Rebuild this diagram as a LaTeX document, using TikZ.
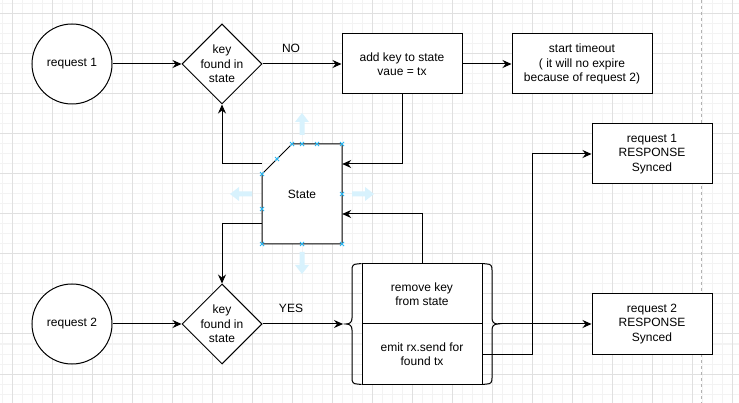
\documentclass[tikz,border=0pt]{standalone}
\usepackage{fontspec}
\setmainfont{Liberation Sans}
\usetikzlibrary{arrows.meta,shapes.geometric}

\definecolor{gridminor}{HTML}{F3F3F3}
\definecolor{gridmajor}{HTML}{E0E0E0}
\definecolor{handle}{HTML}{29B6F2}

\tikzset{
  box/.style={draw,fill=white,line width=1pt,minimum width=120pt,minimum height=60pt,align=center,inner sep=0pt},
  req/.style={draw,fill=white,circle,line width=1pt,minimum size=80pt,inner sep=0pt},
  test/.style={draw,fill=white,diamond,line width=1pt,minimum size=80pt,inner sep=0pt},
  arr/.style={line width=1pt,-{Stealth[length=9pt,width=8pt,inset=3pt]}},
  wire/.style={line width=1pt},
}

\begin{document}
\begin{tikzpicture}[x=1pt,y=-1pt,font=\fontsize{12pt}{14.4pt}\selectfont]

      \useasboundingbox[fill=white] (0,0) rectangle (739,403);

      % grid
      \foreach \x in {2,12,...,732} \draw[gridminor,line width=1pt] (\x,0) -- (\x,403);
      \foreach \y in {4,14,...,394} \draw[gridminor,line width=1pt] (0,\y) -- (739,\y);
      \foreach \x in {12,52,...,732} \draw[gridmajor,line width=1pt] (\x,0) -- (\x,403);
      \foreach \y in {14,54,...,374} \draw[gridmajor,line width=1pt] (0,\y) -- (739,\y);
      \draw[gray!60,line width=1pt,dash pattern=on 3pt off 3pt] (701,0) -- (701,403); % page edge

      % top row
      \node[req] (req1) at (72,64) {request 1};
      \node[test,label={[align=center]center:key\\found in\\state}] (d1) at (222,64) {};
      \node[box] (add) at (402,64) {add key to state\\vaue = tx};
      \node[box,minimum width=140pt] (timeout) at (582,64) {start timeout\\( it will no expire\\because of request 2)};
      \node (no) at (291,48) {NO};

      % state
      \draw[wire,fill=white] (262,174) -- (292,144) -- (342,144) -- (342,244) -- (262,244) -- cycle;
      \node[minimum width=80pt,minimum height=100pt,inner sep=0pt] (state) at (302,194) {State};

      % bottom row
      \node[req] (req2) at (72,324) {request 2};
      \node[test,label={[align=center]center:key\\found in\\state}] (d2) at (222,324) {};
      \node (yes) at (291,308) {YES};
      \node[box] (rem) at (422,294) {remove key\\from state};
      \node[box] (emit) at (422,354) {emit rx.send for\\found tx};
      \draw[wire] (rem.north west) -- (357,264) .. controls (353,264) and (352,266) .. (352,270)
        -- (352,318) .. controls (352,322) and (350,324) .. (346,324)
        .. controls (350,324) and (352,326) .. (352,330) -- (352,378)
        .. controls (352,382) and (353,384) .. (357,384) -- (emit.south west); % left brace
      \draw[wire] (rem.north east) -- (487,264) .. controls (491,264) and (492,266) .. (492,270)
        -- (492,318) .. controls (492,322) and (494,324) .. (498,324)
        .. controls (494,324) and (492,326) .. (492,330) -- (492,378)
        .. controls (492,382) and (491,384) .. (487,384) -- (emit.south east); % right brace
      \coordinate (brin) at (343,324);
      \coordinate (brout) at (498,324);

      % responses
      \node[box] (resp1) at (652,154) {request 1\\RESPONSE\\Synced};
      \node[box] (resp2) at (652,324) {request 2\\RESPONSE\\Synced};

      % connectors
      \draw[arr] (req1) -- (d1);
      \draw[arr] (d1) -- (add);
      \draw[arr] (add) -- (timeout);
      \draw[arr] (add.south) |- ([yshift=30pt]state.east);
      \draw[arr] ([yshift=30pt]state.west) -| (d1.south);
      \draw[arr] ([yshift=-30pt]state.west) -| (d2.north);
      \draw[arr] (rem.north) |- ([yshift=-20pt]state.east);
      \draw[arr] (req2) -- (d2);
      \draw[arr] (d2) -- (brin);
      \draw[arr] (brout) -- (resp2.west);
      \draw[arr] (emit.east) -- ++(50,0) |- (resp1.west);

      % selection handles
      \foreach \x/\y/\a in {302/135/0,252/194/90,302/252/180,352/194/-90}
      \fill[handle!18,shift={(\x,\y)},rotate=\a] (-2.5,0) -- (-2.5,-13) -- (-7,-13) -- (0,-22)
        -- (7,-13) -- (2.5,-13) -- (2.5,0) -- cycle;
      \foreach \x/\y in {292/144,302/144,317/144,342/144,277/159,262/174,262/209,262/244,302/244,342/244,342/194}
      \draw[handle,line width=0.8pt] (\x-2,\y-2) -- (\x+2,\y+2) (\x-2,\y+2) -- (\x+2,\y-2);

    \end{tikzpicture}
\end{document}
